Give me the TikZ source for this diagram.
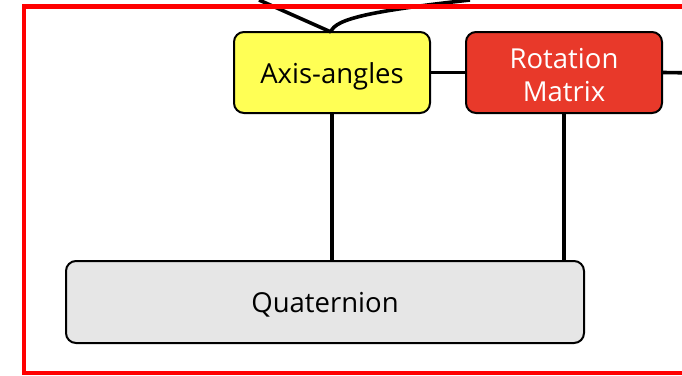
\documentclass[tikz,border=0pt]{standalone}
\usepackage{fontspec}
\setmainfont{Open Sans}
\definecolor{boxyellow}{HTML}{FFFF55}
\definecolor{boxred}{HTML}{E8392A}
\definecolor{boxgrey}{HTML}{E6E6E6}
\definecolor{framered}{HTML}{FF0000}
\begin{document}
\begin{tikzpicture}[x=1pt,y=-1pt,
  box/.style={draw=black,line width=2pt,rounded corners=10pt,inner sep=0pt,align=center,font=\fontsize{27.5}{33}\selectfont},
  link/.style={line width=3.6pt,black}]
\useasboundingbox (0,0) rectangle (682,375);
\begin{scope}
\clip (0,0) rectangle (682,375);
\node[box,fill=boxyellow,minimum width=196pt,minimum height=81pt,text height=24pt,text depth=3pt] (aa) at (332,72.5) {Axis-angles};
\node[box,fill=boxred,text=white,minimum width=196pt,minimum height=81pt,text height=57pt,text depth=0pt] (rm) at (564,72.5) {Rotation\\Matrix};
\node[box,fill=boxgrey,minimum width=518pt,minimum height=82pt,text height=24pt,text depth=3pt] (q) at (325,302) {Quaternion};
\coordinate (top1) at (259,0);
\coordinate (top2) at (470,0);
\coordinate (right) at (700,73);
\coordinate (join) at (331,32);
\draw[link] (top1) -- (join);
\draw[link] (join) .. controls (334,18) and (380,10) .. (top2);
\draw[link] (aa.east) -- (rm.west);
\draw[link] (rm.east) -- (right);
\draw[link] (aa.south) -- (aa.south |- q.north);
\draw[link] (rm.south) -- (rm.south |- q.north);
\draw[framered,line width=4.5pt] (720,6.5) -- (24,6.5) -- (24,373) -- (720,373);
\end{scope}
\end{tikzpicture}
\end{document}
